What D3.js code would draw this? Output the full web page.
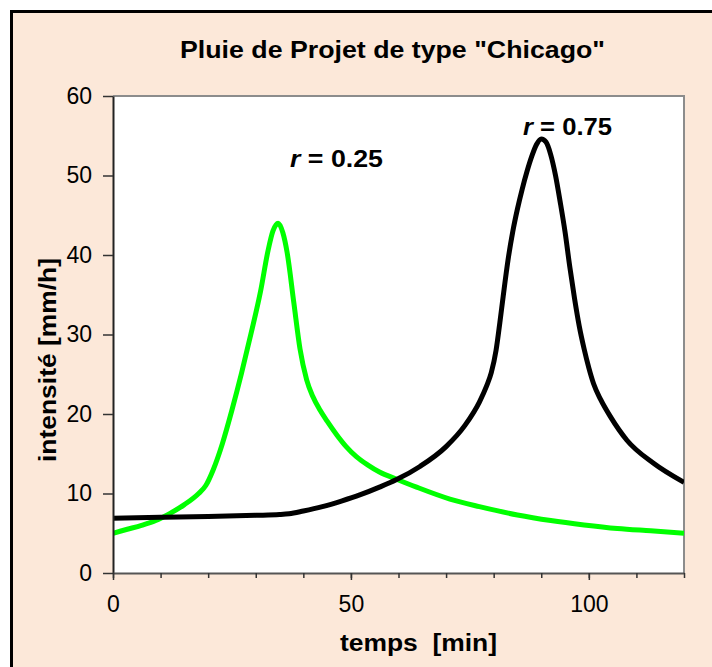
<!DOCTYPE html>
<html>
<head>
<meta charset="utf-8">
<script src="https://cdn.jsdelivr.net/npm/d3@7"></script>
<style>
  html, body { margin: 0; padding: 0; background: #ffffff; }
  svg { display: block; }
  text { font-family: "Liberation Sans", Arial, sans-serif; }
</style>
</head>
<body>
<script>
// ---- data ----
const timeGreen = [0, 3, 6, 9, 12, 15, 18, 19.5, 21, 23, 25, 27, 29, 31, 32.6, 33.6, 34.7, 35.7, 36.6, 38, 39.3, 40.7, 42, 43.5, 45, 47, 49, 51.2, 53.5, 56, 59.6, 63.8, 70.8, 77, 85, 92, 99, 106, 113, 120];
const valGreen  = [5.0, 5.5, 6.0, 6.6, 7.5, 8.6, 10.0, 11.0, 12.9, 16.3, 20.5, 25.1, 30.1, 35.4, 40.6, 43.0, 44.0, 42.8, 40.3, 34.0, 28.2, 24.3, 22.2, 20.5, 19.1, 17.4, 15.9, 14.6, 13.6, 12.7, 11.8, 10.8, 9.3, 8.35, 7.3, 6.6, 6.05, 5.6, 5.3, 5.0];

const timeBlack = [0, 10, 20, 30, 35, 37, 40, 44, 48, 52, 56, 59.6, 64.5, 70, 74, 77, 78.5, 79.5, 80.5, 81.3, 82, 83, 84, 85, 86, 87, 88, 89, 90, 91, 92, 93, 94, 95, 96, 97, 98, 99, 100, 101, 102.5, 104.5, 108, 113.6, 120];
const valBlack  = [6.9, 7.0, 7.1, 7.25, 7.35, 7.45, 7.8, 8.35, 9.05, 9.85, 10.8, 11.75, 13.4, 15.9, 18.6, 21.5, 23.5, 25.2, 28.0, 31.5, 34.8, 39.3, 42.9, 45.8, 48.3, 50.5, 52.4, 53.9, 54.6, 54.2, 52.6, 50.0, 46.6, 42.9, 38.5, 34.5, 31.0, 28.2, 25.8, 23.8, 21.8, 19.7, 16.7, 13.8, 11.4];

const yTicks = [0, 10, 20, 30, 40, 50, 60];
const xMajorTicks = [0, 50, 100];
const xMinorTicks = [0, 10, 20, 30, 40, 50, 60, 70, 80, 90, 100, 110, 120];

const titleText = 'Pluie de Projet de type "Chicago"';
const xLabel = "temps  [min]";
const yLabel = "intensité [mm/h]";

// ---- layout ----
const W = 712, H = 667;
const plot = { left: 113, right: 684, top: 96, bottom: 573 };

const svg = d3.select("body").append("svg").attr("width", W).attr("height", H);

// background + frame
svg.append("rect").attr("x", 0).attr("y", 0).attr("width", W).attr("height", H).attr("fill", "#ffffff");
svg.append("rect").attr("x", 11.5).attr("y", 11.5).attr("width", W + 20).attr("height", H + 20)
  .attr("fill", "#FCE8D9").attr("stroke", "#000").attr("stroke-width", 3);

const x = d3.scaleLinear().domain([0, 120]).range([plot.left, plot.right]);
const y = d3.scaleLinear().domain([0, 60]).range([plot.bottom, plot.top]);

// plot area
svg.append("rect").attr("x", plot.left).attr("y", plot.top)
  .attr("width", plot.right - plot.left).attr("height", plot.bottom - plot.top)
  .attr("fill", "#ffffff");
svg.append("path")
  .attr("d", `M${plot.left},${plot.top}H${plot.right}V${plot.bottom}`)
  .attr("fill", "none").attr("stroke", "#8c8c8c").attr("stroke-width", 2);

// curves
const line = d3.line().x(d => x(d[0])).y(d => y(d[1])).curve(d3.curveMonotoneX);
const gData = timeGreen.map((t, i) => [t, valGreen[i]]);
const bData = timeBlack.map((t, i) => [t, valBlack[i]]);

svg.append("clipPath").attr("id", "clip").append("rect")
  .attr("x", plot.left).attr("y", plot.top - 10)
  .attr("width", plot.right - plot.left).attr("height", plot.bottom - plot.top + 10);

svg.append("path").datum(gData).attr("d", line)
  .attr("fill", "none").attr("stroke", "#00FF00").attr("stroke-width", 5)
  .attr("stroke-linejoin", "round").attr("clip-path", "url(#clip)");
svg.append("path").datum(bData).attr("d", line)
  .attr("fill", "none").attr("stroke", "#000000").attr("stroke-width", 5)
  .attr("stroke-linejoin", "round").attr("clip-path", "url(#clip)");

// y axis
const yAxis = d3.axisLeft(y).tickValues(yTicks).tickSize(10).tickPadding(11).tickSizeOuter(0);
const gy = svg.append("g").attr("transform", `translate(${plot.left},0)`).call(yAxis);
gy.select(".domain").attr("stroke", "#222").attr("stroke-width", 2);
gy.selectAll(".tick line").attr("stroke", "#333").attr("stroke-width", 1.5);
gy.selectAll(".tick text").attr("font-size", 23).attr("fill", "#000")
  .attr("font-family", '"Liberation Sans", Arial, sans-serif');

// x axis minor ticks
const xMinor = d3.axisBottom(x).tickValues(xMinorTicks).tickSize(5).tickFormat("").tickSizeOuter(0);
const gxm = svg.append("g").attr("transform", `translate(0,${plot.bottom})`).call(xMinor);
gxm.select(".domain").attr("stroke", "#555").attr("stroke-width", 2);
gxm.selectAll(".tick line").attr("stroke", "#333").attr("stroke-width", 1.5);

// x axis major ticks + labels
const xMajor = d3.axisBottom(x).tickValues(xMajorTicks).tickSize(7).tickPadding(16).tickSizeOuter(0);
const gx = svg.append("g").attr("transform", `translate(0,${plot.bottom})`).call(xMajor);
gx.select(".domain").remove();
gx.selectAll(".tick line").attr("stroke", "#333").attr("stroke-width", 1.5);
gx.selectAll(".tick text").attr("font-size", 23).attr("fill", "#000")
  .attr("font-family", '"Liberation Sans", Arial, sans-serif');

// title
svg.append("text").attr("x", 180).attr("y", 58)
  .attr("font-size", 24).attr("font-weight", "bold")
  .attr("textLength", 425).attr("lengthAdjust", "spacingAndGlyphs").text(titleText);

// axis labels
svg.append("text").attr("x", 340).attr("y", 651)
  .attr("font-size", 23).attr("font-weight", "bold").style("white-space", "pre")
  .attr("textLength", 157).attr("lengthAdjust", "spacingAndGlyphs").text(xLabel);
svg.append("text").attr("transform", "translate(56,462) rotate(-90)")
  .attr("font-size", 23).attr("font-weight", "bold")
  .attr("textLength", 204).attr("lengthAdjust", "spacingAndGlyphs").text(yLabel);

// annotations
function rLabel(xp, yp, val, len) {
  const t = svg.append("text").attr("x", xp).attr("y", yp)
    .attr("font-size", 23).attr("font-weight", "bold")
    .attr("textLength", len).attr("lengthAdjust", "spacingAndGlyphs");
  t.append("tspan").attr("font-style", "italic").text("r");
  t.append("tspan").text(" = " + val);
}
rLabel(290, 167, "0.25", 93);
rLabel(523, 135, "0.75", 89);
</script>
</body>
</html>
